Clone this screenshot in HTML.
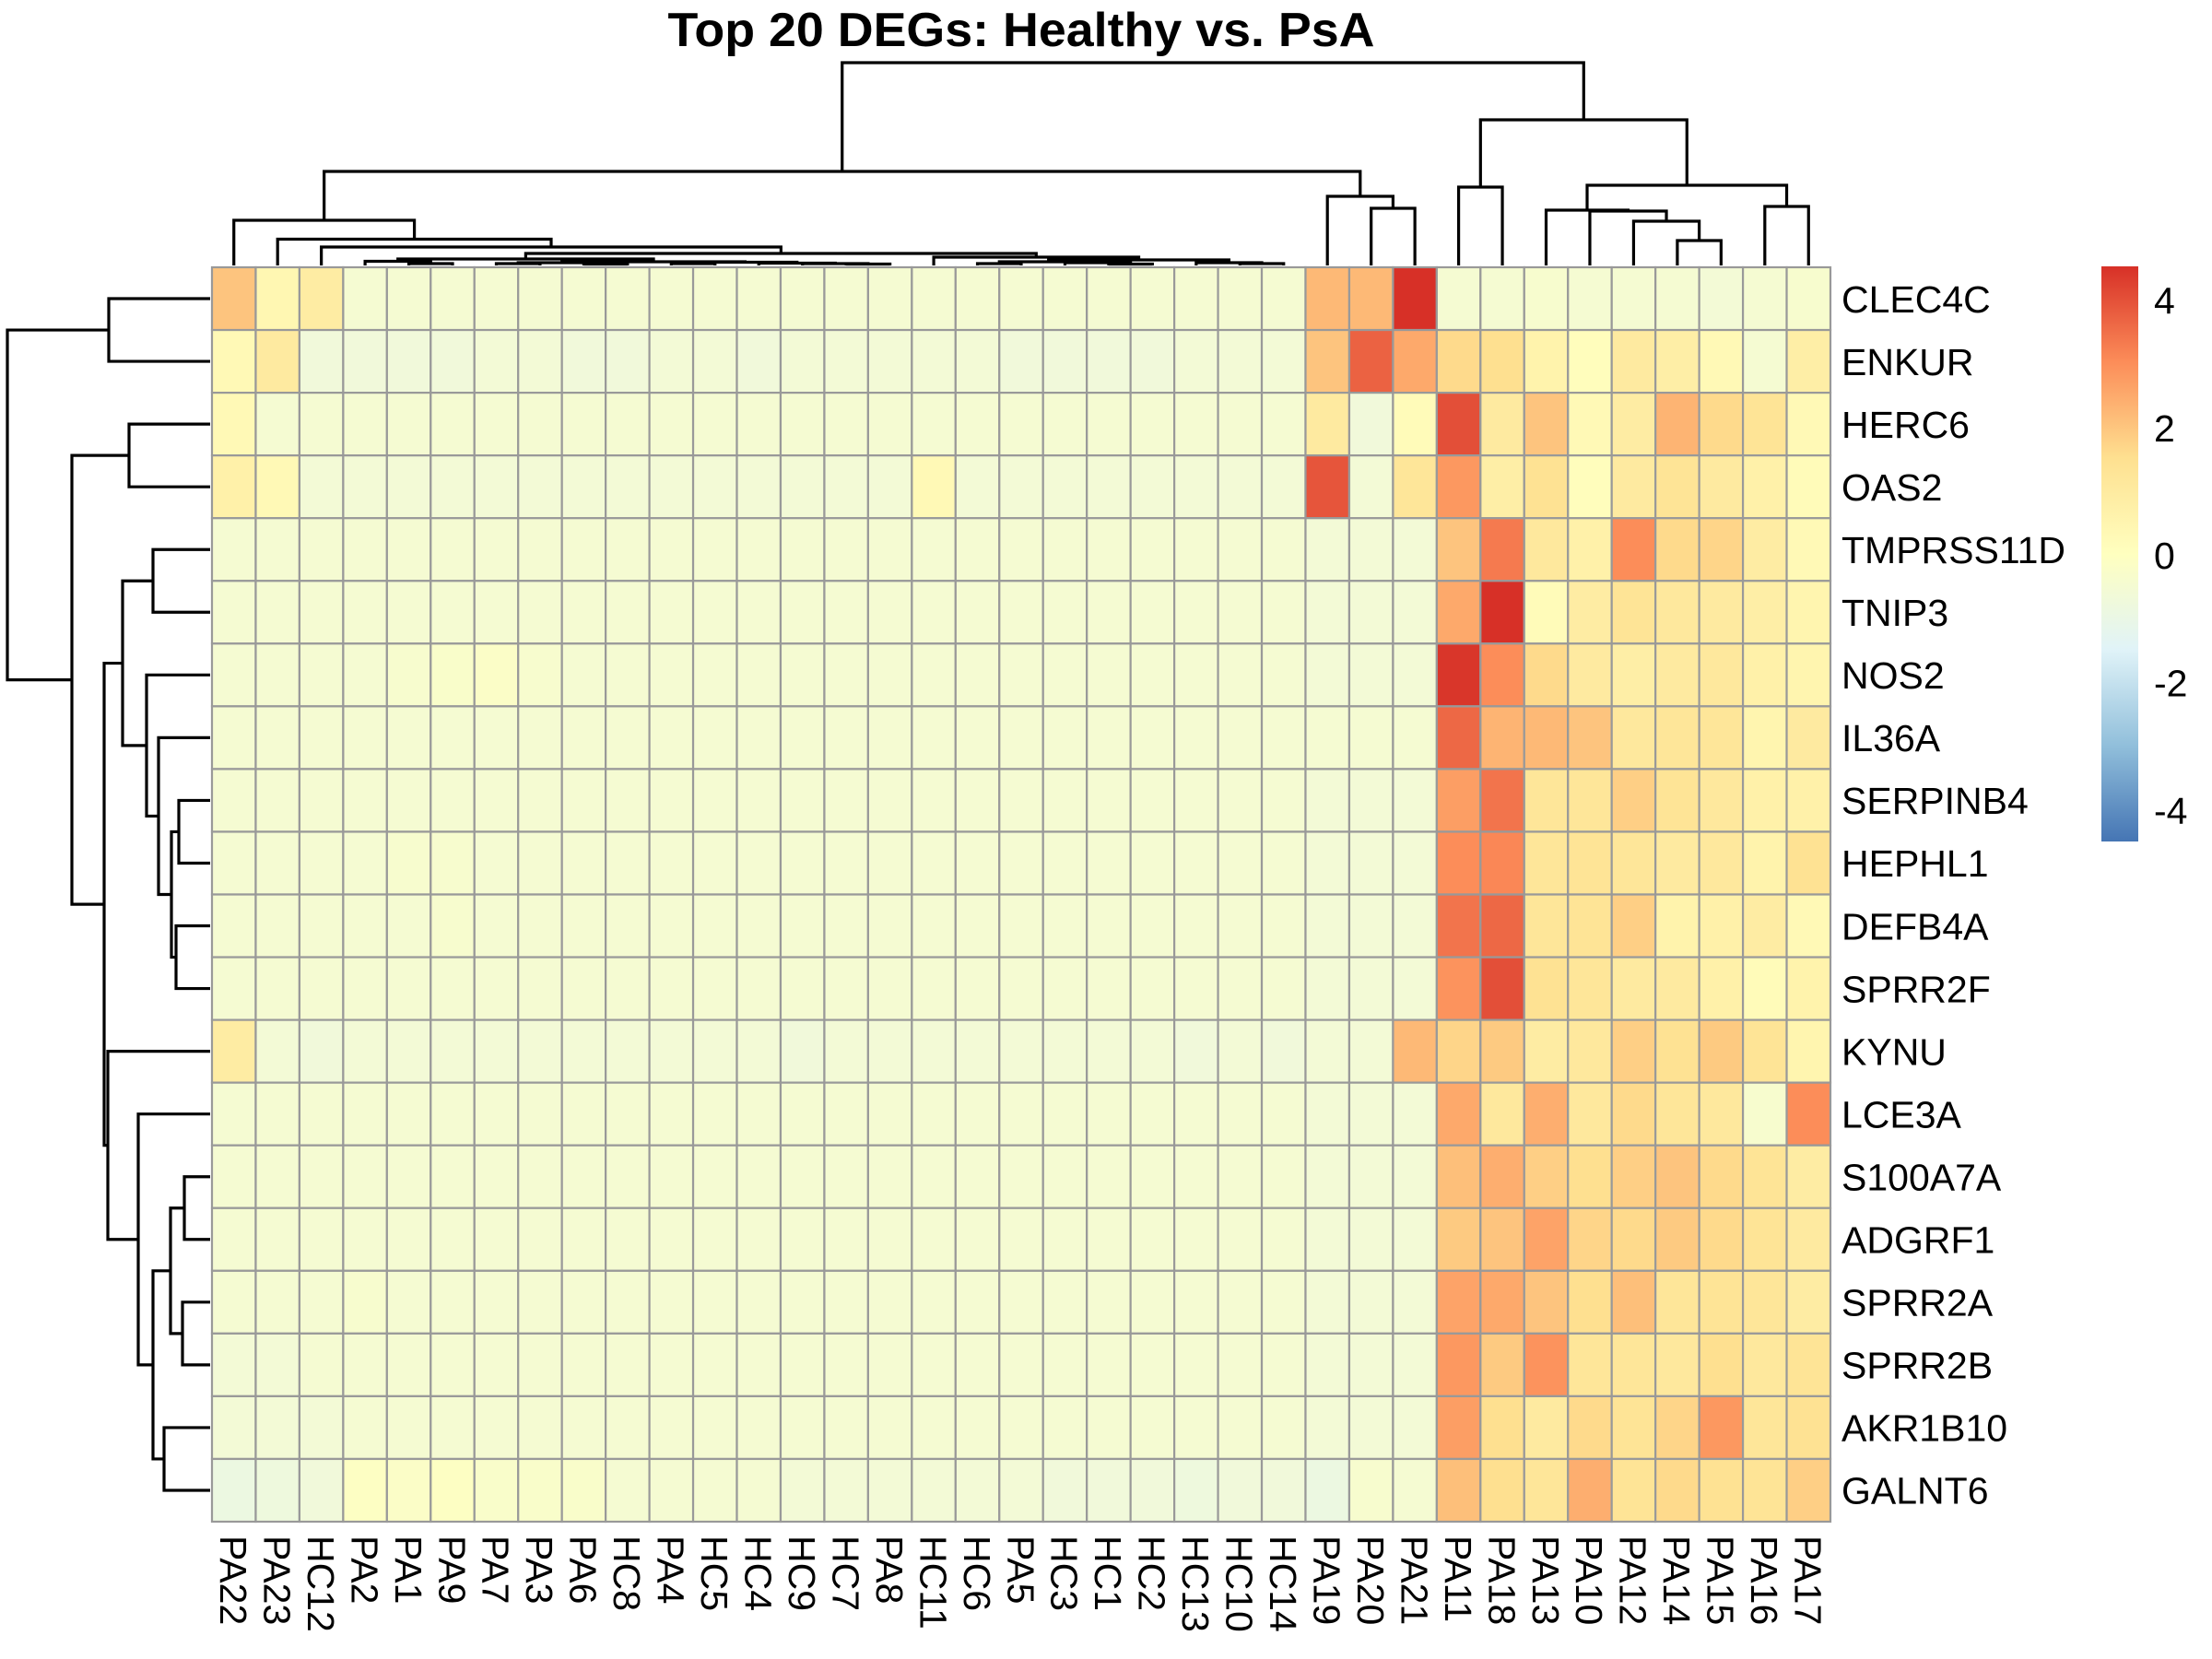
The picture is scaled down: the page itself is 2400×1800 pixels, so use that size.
<!DOCTYPE html>
<html><head><meta charset="utf-8"><style>
html,body{margin:0;padding:0;background:#fff;}
svg{display:block;font-family:"Liberation Sans",sans-serif;}
</style></head><body>
<svg id="chart" width="2400" height="1800" viewBox="0 0 2400 1800" xmlns="http://www.w3.org/2000/svg">
<defs>
<linearGradient id="cbar" x1="0" y1="1" x2="0" y2="0">
<stop offset="0" stop-color="#4575B4"/><stop offset="0.1667" stop-color="#91BFDB"/><stop offset="0.3333" stop-color="#E0F3F8"/><stop offset="0.5" stop-color="#FFFFBF"/><stop offset="0.6667" stop-color="#FEE090"/><stop offset="0.8333" stop-color="#FC8D59"/><stop offset="1" stop-color="#D73027"/>
</linearGradient>
</defs>
<text x="1108" y="50" text-anchor="middle" font-size="52" font-weight="bold" textLength="767" lengthAdjust="spacingAndGlyphs">Top 20 DEGs: Healthy vs. PsA</text>
<g id="cells"></g>
<g id="coldend"></g>
<g id="rowdend"></g>
<g id="rowlabels"></g>
<g id="collabels"></g>
<g id="legend">
<rect x="2280" y="289" width="40" height="624" fill="url(#cbar)"/>
</g>
</svg>
<script>
const colNames = ["PA22","PA23","HC12","PA2","PA1","PA9","PA7","PA3","PA6","HC8","PA4","HC5","HC4","HC9","HC7","PA8","HC11","HC6","PA5","HC3","HC1","HC2","HC13","HC10","HC14","PA19","PA20","PA21","PA11","PA18","PA13","PA10","PA12","PA14","PA15","PA16","PA17"];
const rowNames = ["CLEC4C","ENKUR","HERC6","OAS2","TMPRSS11D","TNIP3","NOS2","IL36A","SERPINB4","HEPHL1","DEFB4A","SPRR2F","KYNU","LCE3A","S100A7A","ADGRF1","SPRR2A","SPRR2B","AKR1B10","GALNT6"];
const values = [
[2.0,0.4,0.9,-0.5,-0.5,-0.5,-0.5,-0.5,-0.5,-0.5,-0.5,-0.5,-0.5,-0.5,-0.5,-0.5,-0.5,-0.5,-0.5,-0.5,-0.5,-0.5,-0.5,-0.5,-0.5,2.2,2.2,4.5,-0.5,-0.5,-0.4,-0.5,-0.5,-0.5,-0.6,-0.5,-0.4],
[0.3,1.0,-0.7,-0.7,-0.7,-0.7,-0.6,-0.6,-0.7,-0.7,-0.6,-0.6,-0.7,-0.6,-0.6,-0.6,-0.6,-0.6,-0.7,-0.7,-0.7,-0.7,-0.6,-0.6,-0.6,2.0,3.7,2.5,1.6,1.5,0.6,0.1,1.0,0.8,0.3,-0.5,0.8],
[0.3,-0.5,-0.5,-0.5,-0.5,-0.5,-0.5,-0.5,-0.5,-0.5,-0.5,-0.5,-0.5,-0.5,-0.5,-0.5,-0.5,-0.5,-0.5,-0.5,-0.5,-0.5,-0.5,-0.5,-0.5,1.0,-0.7,0.2,4.0,1.0,2.0,0.3,0.9,2.3,1.6,1.3,0.3],
[0.7,0.3,-0.6,-0.6,-0.6,-0.6,-0.6,-0.6,-0.6,-0.6,-0.6,-0.6,-0.6,-0.6,-0.6,-0.6,0.3,-0.6,-0.6,-0.6,-0.6,-0.6,-0.6,-0.6,-0.6,3.9,-0.6,1.2,2.8,0.8,1.4,0.1,1.0,1.3,1.0,0.7,0.2],
[-0.5,-0.5,-0.5,-0.5,-0.5,-0.5,-0.5,-0.5,-0.5,-0.5,-0.5,-0.5,-0.5,-0.5,-0.5,-0.5,-0.5,-0.5,-0.5,-0.5,-0.5,-0.5,-0.5,-0.5,-0.5,-0.6,-0.6,-0.6,2.0,3.3,1.1,0.7,3.0,1.6,1.7,0.9,0.3],
[-0.5,-0.5,-0.5,-0.5,-0.5,-0.5,-0.5,-0.5,-0.5,-0.5,-0.5,-0.5,-0.5,-0.5,-0.5,-0.5,-0.5,-0.5,-0.5,-0.5,-0.5,-0.5,-0.5,-0.5,-0.5,-0.6,-0.6,-0.6,2.5,4.5,0.2,0.9,1.3,1.1,1.0,0.8,0.5],
[-0.5,-0.5,-0.5,-0.5,-0.4,-0.3,-0.2,-0.4,-0.5,-0.5,-0.5,-0.5,-0.5,-0.5,-0.5,-0.5,-0.5,-0.5,-0.5,-0.5,-0.5,-0.5,-0.5,-0.5,-0.5,-0.6,-0.6,-0.6,4.4,3.0,1.6,1.0,0.8,1.0,1.1,0.7,0.5],
[-0.5,-0.5,-0.5,-0.5,-0.5,-0.5,-0.5,-0.5,-0.5,-0.5,-0.5,-0.5,-0.5,-0.5,-0.5,-0.5,-0.5,-0.5,-0.5,-0.5,-0.5,-0.5,-0.5,-0.5,-0.5,-0.5,-0.5,-0.5,3.6,2.3,2.2,2.0,1.1,1.2,1.2,0.5,1.0],
[-0.5,-0.5,-0.5,-0.5,-0.5,-0.5,-0.5,-0.5,-0.5,-0.5,-0.5,-0.5,-0.5,-0.5,-0.5,-0.5,-0.5,-0.5,-0.5,-0.5,-0.5,-0.5,-0.5,-0.5,-0.5,-0.6,-0.6,-0.6,2.7,3.4,1.2,1.2,1.8,1.3,1.1,0.7,0.7],
[-0.5,-0.5,-0.5,-0.5,-0.4,-0.4,-0.5,-0.5,-0.5,-0.5,-0.5,-0.5,-0.5,-0.5,-0.5,-0.5,-0.5,-0.5,-0.5,-0.5,-0.5,-0.5,-0.5,-0.5,-0.5,-0.6,-0.6,-0.6,3.0,3.1,1.2,1.3,1.2,1.0,1.1,0.6,1.4],
[-0.5,-0.5,-0.5,-0.5,-0.5,-0.4,-0.5,-0.5,-0.5,-0.5,-0.5,-0.5,-0.5,-0.5,-0.5,-0.5,-0.5,-0.5,-0.5,-0.5,-0.5,-0.5,-0.5,-0.5,-0.5,-0.6,-0.6,-0.6,3.4,3.6,1.2,1.3,1.8,0.6,0.7,0.9,0.3],
[-0.5,-0.5,-0.5,-0.5,-0.5,-0.5,-0.5,-0.5,-0.5,-0.5,-0.5,-0.5,-0.5,-0.5,-0.5,-0.5,-0.5,-0.5,-0.5,-0.5,-0.5,-0.5,-0.5,-0.5,-0.5,-0.6,-0.6,-0.6,2.9,4.0,1.4,1.2,1.0,1.0,0.7,0.2,0.6],
[0.9,-0.6,-0.7,-0.6,-0.6,-0.6,-0.6,-0.6,-0.6,-0.6,-0.6,-0.6,-0.6,-0.7,-0.6,-0.6,-0.6,-0.6,-0.6,-0.6,-0.6,-0.6,-0.7,-0.6,-0.7,-0.6,-0.6,2.2,1.7,1.9,0.9,1.1,1.8,1.4,1.9,1.3,0.5],
[-0.5,-0.5,-0.5,-0.5,-0.5,-0.5,-0.5,-0.5,-0.5,-0.5,-0.5,-0.5,-0.5,-0.5,-0.5,-0.5,-0.5,-0.5,-0.5,-0.5,-0.5,-0.5,-0.5,-0.5,-0.5,-0.6,-0.6,-0.6,2.5,1.1,2.4,1.1,1.6,1.2,1.1,-0.4,3.0],
[-0.5,-0.5,-0.5,-0.5,-0.5,-0.5,-0.5,-0.5,-0.5,-0.5,-0.5,-0.5,-0.5,-0.5,-0.5,-0.5,-0.5,-0.5,-0.5,-0.5,-0.5,-0.5,-0.5,-0.5,-0.5,-0.6,-0.6,-0.6,2.1,2.4,1.8,1.5,1.8,2.0,1.6,1.3,0.9],
[-0.5,-0.5,-0.5,-0.5,-0.5,-0.5,-0.5,-0.5,-0.5,-0.5,-0.5,-0.5,-0.5,-0.5,-0.5,-0.5,-0.5,-0.5,-0.5,-0.5,-0.5,-0.5,-0.5,-0.5,-0.5,-0.6,-0.6,-0.6,1.9,2.0,2.6,1.7,1.6,1.9,1.6,1.3,1.0],
[-0.5,-0.5,-0.5,-0.4,-0.5,-0.5,-0.5,-0.5,-0.5,-0.5,-0.5,-0.5,-0.5,-0.5,-0.5,-0.5,-0.5,-0.5,-0.5,-0.5,-0.5,-0.5,-0.5,-0.5,-0.5,-0.6,-0.6,-0.6,2.6,2.5,2.0,1.5,2.1,1.2,1.3,1.2,0.9],
[-0.6,-0.6,-0.5,-0.5,-0.5,-0.5,-0.5,-0.5,-0.5,-0.5,-0.5,-0.5,-0.5,-0.5,-0.5,-0.5,-0.5,-0.5,-0.5,-0.5,-0.5,-0.5,-0.5,-0.5,-0.5,-0.6,-0.6,-0.6,2.8,1.9,2.9,1.2,1.2,1.1,1.5,1.1,1.3],
[-0.6,-0.6,-0.6,-0.5,-0.5,-0.5,-0.5,-0.5,-0.5,-0.5,-0.5,-0.5,-0.5,-0.5,-0.5,-0.5,-0.5,-0.5,-0.5,-0.5,-0.5,-0.5,-0.5,-0.5,-0.5,-0.6,-0.6,-0.6,2.7,1.5,1.0,1.6,1.3,1.7,2.8,1.2,1.4],
[-0.9,-0.8,-0.7,-0.1,-0.2,-0.1,-0.3,-0.3,-0.3,-0.5,-0.5,-0.5,-0.5,-0.6,-0.6,-0.6,-0.6,-0.6,-0.6,-0.7,-0.7,-0.7,-0.8,-0.7,-0.7,-0.9,-0.4,-0.5,2.1,1.5,1.2,2.4,1.3,1.6,1.4,1.3,1.8]
];
const legendTicks = [4,2,0,-2,-4];
const legendTickLabels = ["4","2","0","-2","-4"];
// dendrogram trees: [height, left, right]; leaves are indices
const colTree = [220,[102,[49,0,[28.5,1,[20,2,[13,[7,[4.5,3,[2,4,5]],[4,[3,[2,6,7],[1.5,8,9]],[3.5,[2,10,11],[2.5,12,[2,13,[1.5,14,15]]]]]],[9,16,[6,[4,[2,17,18],[3,19,[1.5,20,21]]],[3,22,[2,23,24]]]]]]]],[75,25,[62,26,27]]],[158,[85,28,29],[87,[60,30,[59,31,[48,32,[27,33,34]]]],[64,35,36]]]];
const rowTree = [220,[110,0,1],[150,[88,2,3],[115,[95,[62,4,5],[69,6,[56,7,[42,[34,8,9],[37,10,11]]]]],[111,12,[78,13,[62,[43,[28,14,15],[30,16,17]],[50,18,19]]]]]]];

const NS="http://www.w3.org/2000/svg";
const X0=230, X1=1986, Y0=290, Y1=1651;
const cw=(X1-X0)/colNames.length, rh=(Y1-Y0)/rowNames.length;
const vmin=-4.5, vmax=4.5;
const pal=["#4575B4","#91BFDB","#E0F3F8","#FFFFBF","#FEE090","#FC8D59","#D73027"];
function hex(c){return [1,3,5].map(i=>parseInt(c.substr(i,2),16));}
function color(v){
  let t=(v-vmin)/(vmax-vmin); t=Math.max(0,Math.min(1,t));
  const p=t*(pal.length-1), i=Math.min(pal.length-2,Math.floor(p)), f=p-i;
  const a=hex(pal[i]), b=hex(pal[i+1]);
  return "rgb("+a.map((x,k)=>Math.round(x+(b[k]-x)*f)).join(",")+")";
}
function xCol(i){return X0+cw*i;}
function yRow(j){return Y0+rh*j;}
function mk(tag,attrs,parent){const e=document.createElementNS(NS,tag);for(const k in attrs)e.setAttribute(k,attrs[k]);parent.appendChild(e);return e;}

const cells=document.getElementById("cells");
values.forEach((row,j)=>row.forEach((v,i)=>{
  const r=mk("rect",{x:xCol(i),y:yRow(j),width:cw,height:rh,fill:color(v),stroke:"#999999","stroke-width":2.2},cells);
  
  
}));

const rl=document.getElementById("rowlabels");
rowNames.forEach((n,j)=>{
  const t=mk("text",{x:X1+12,y:yRow(j)+rh/2,dy:"0.36em","font-size":41},rl);
  t.textContent=n;
  
  
});
const cl=document.getElementById("collabels");
colNames.forEach((n,i)=>{
  const cx=xCol(i)+cw/2, y=1666;
  const t=mk("text",{x:cx,y:y,dy:"0.36em","font-size":41,transform:"rotate(90 "+cx+" "+y+")"},cl);
  t.textContent=n;
  
  
});

// column dendrogram
const cd=document.getElementById("coldend");
function drawCol(node){
  if(typeof node==="number") return {p:xCol(node)+cw/2,h:0};
  const a=drawCol(node[1]), b=drawCol(node[2]), h=node[0];
  const base=Y0-2, y=base-h;
  const path=mk("path",{d:"M"+a.p+" "+(base-a.h)+"V"+y+"H"+b.p+"V"+(base-b.h),fill:"none",stroke:"#000","stroke-width":3.2},cd);
  
  
  return {p:(a.p+b.p)/2,h:h};
}
drawCol(colTree);
const rd=document.getElementById("rowdend");
function drawRow(node){
  if(typeof node==="number") return {p:yRow(node)+rh/2,h:0};
  const a=drawRow(node[1]), b=drawRow(node[2]), h=node[0];
  const base=X0-2, x=base-h;
  const path=mk("path",{d:"M"+(base-a.h)+" "+a.p+"H"+x+"V"+b.p+"H"+(base-b.h),fill:"none",stroke:"#000","stroke-width":3.2},rd);
  
  
  return {p:(a.p+b.p)/2,h:h};
}
drawRow(rowTree);

// legend ticks
const lg=document.getElementById("legend");
const LT=289, LB=913, lmax=4.53, lmin=-4.49;
legendTicks.forEach((v,k)=>{
  const y=LT+(lmax-v)/(lmax-lmin)*(LB-LT);
  const t=mk("text",{x:2337,y:y,dy:"0.36em","font-size":41},lg);
  t.textContent=legendTickLabels[k];
  
  
});
</script>
</body></html>
